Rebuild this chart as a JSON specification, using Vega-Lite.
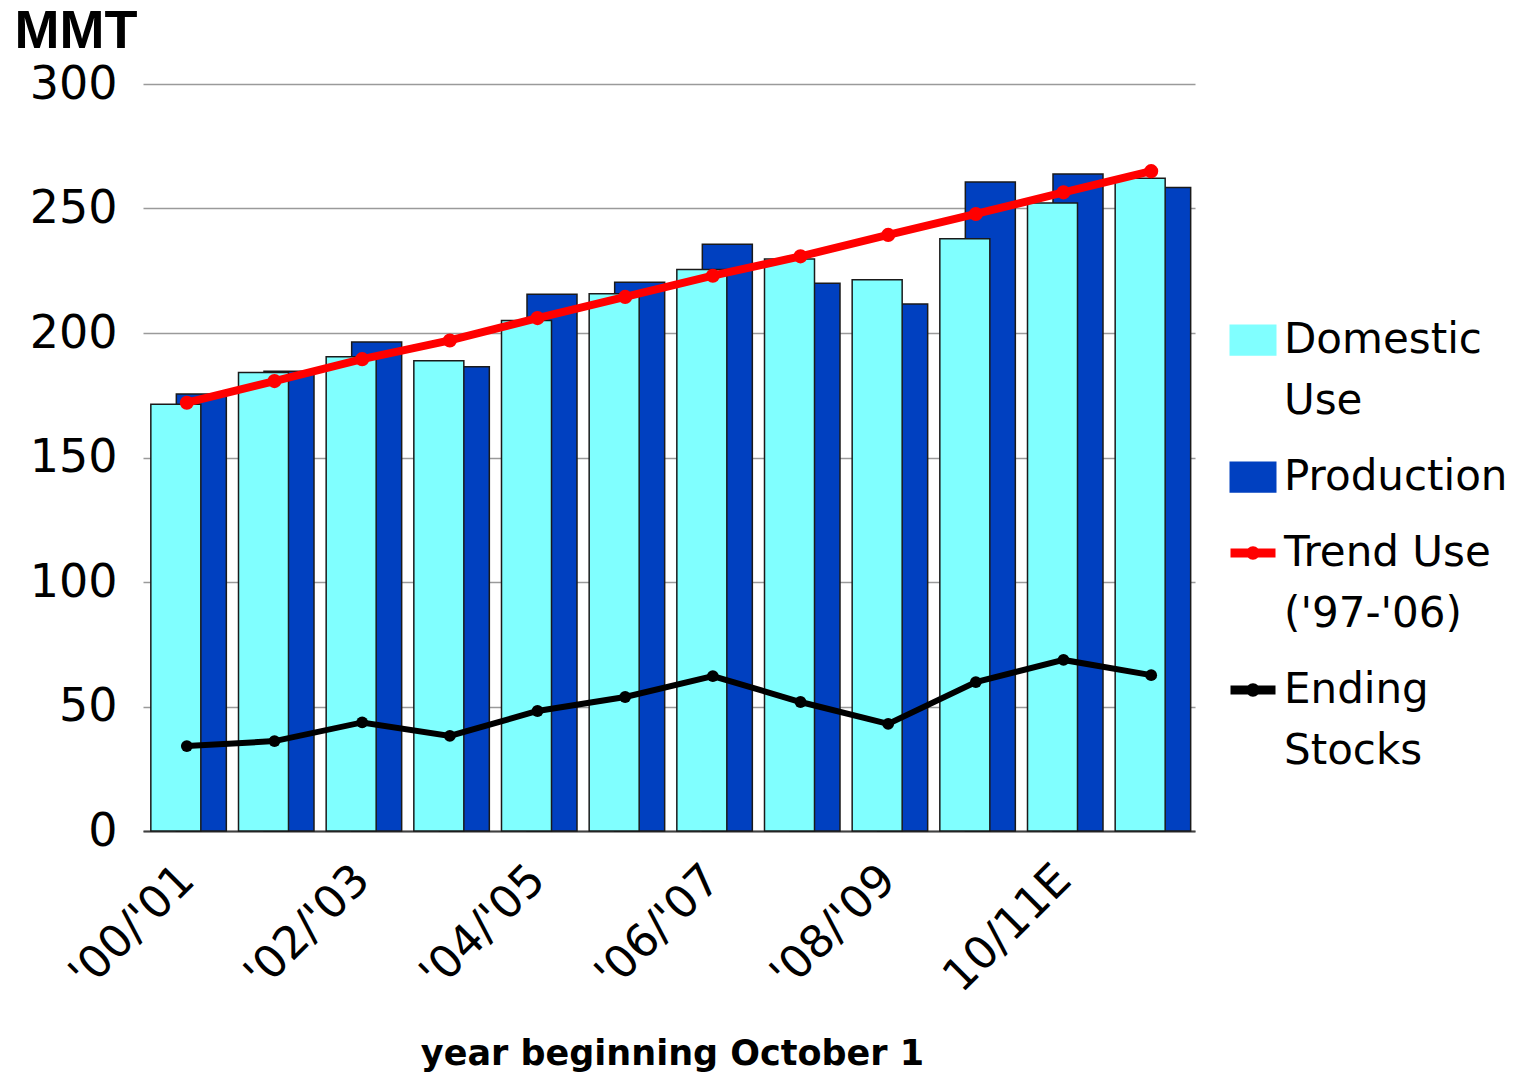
{
  "$schema": "https://vega.github.io/schema/vega-lite/v6.json",
  "width": 1052,
  "height": 747,
  "autosize": {"type": "none"},
  "padding": {"left": 143, "top": 84, "right": 328, "bottom": 246},
  "background": "white",
  "config": {"view": {"stroke": null}, "font": "DejaVu Sans"},
  "data": {
    "values": [
      {"year": "'00/'01", "series": "Domestic Use", "value": 171.4},
      {"year": "'01/'02", "series": "Domestic Use", "value": 184.1},
      {"year": "'02/'03", "series": "Domestic Use", "value": 190.5},
      {"year": "'03/'04", "series": "Domestic Use", "value": 188.9},
      {"year": "'04/'05", "series": "Domestic Use", "value": 205},
      {"year": "'05/'06", "series": "Domestic Use", "value": 215.8},
      {"year": "'06/'07", "series": "Domestic Use", "value": 225.5},
      {"year": "'07/'08", "series": "Domestic Use", "value": 229.7},
      {"year": "'08/'09", "series": "Domestic Use", "value": 221.4},
      {"year": "'09/'10", "series": "Domestic Use", "value": 237.9},
      {"year": "10/11E", "series": "Domestic Use", "value": 252.2},
      {"year": "11/12P", "series": "Domestic Use", "value": 262.1},
      {"year": "'00/'01", "series": "Production", "value": 175.5},
      {"year": "'01/'02", "series": "Production", "value": 184.6},
      {"year": "'02/'03", "series": "Production", "value": 196.4},
      {"year": "'03/'04", "series": "Production", "value": 186.4},
      {"year": "'04/'05", "series": "Production", "value": 215.6},
      {"year": "'05/'06", "series": "Production", "value": 220.4},
      {"year": "'06/'07", "series": "Production", "value": 235.6},
      {"year": "'07/'08", "series": "Production", "value": 220},
      {"year": "'08/'09", "series": "Production", "value": 211.6},
      {"year": "'09/'10", "series": "Production", "value": 260.6},
      {"year": "10/11E", "series": "Production", "value": 263.9},
      {"year": "11/12P", "series": "Production", "value": 258.4},
      {"year": "'00/'01", "series": "Trend Use ('97-'06)", "value": 172},
      {"year": "'01/'02", "series": "Trend Use ('97-'06)", "value": 180.7},
      {"year": "'02/'03", "series": "Trend Use ('97-'06)", "value": 189.5},
      {"year": "'03/'04", "series": "Trend Use ('97-'06)", "value": 197},
      {"year": "'04/'05", "series": "Trend Use ('97-'06)", "value": 206},
      {"year": "'05/'06", "series": "Trend Use ('97-'06)", "value": 214.5},
      {"year": "'06/'07", "series": "Trend Use ('97-'06)", "value": 223},
      {"year": "'07/'08", "series": "Trend Use ('97-'06)", "value": 230.8},
      {"year": "'08/'09", "series": "Trend Use ('97-'06)", "value": 239.4},
      {"year": "'09/'10", "series": "Trend Use ('97-'06)", "value": 247.8},
      {"year": "10/11E", "series": "Trend Use ('97-'06)", "value": 256.5},
      {"year": "11/12P", "series": "Trend Use ('97-'06)", "value": 265},
      {"year": "'00/'01", "series": "Ending Stocks", "value": 34.1},
      {"year": "'01/'02", "series": "Ending Stocks", "value": 36.1},
      {"year": "'02/'03", "series": "Ending Stocks", "value": 43.6},
      {"year": "'03/'04", "series": "Ending Stocks", "value": 38.2},
      {"year": "'04/'05", "series": "Ending Stocks", "value": 48.2},
      {"year": "'05/'06", "series": "Ending Stocks", "value": 53.8},
      {"year": "'06/'07", "series": "Ending Stocks", "value": 62.2},
      {"year": "'07/'08", "series": "Ending Stocks", "value": 51.8},
      {"year": "'08/'09", "series": "Ending Stocks", "value": 43},
      {"year": "'09/'10", "series": "Ending Stocks", "value": 59.8},
      {"year": "10/11E", "series": "Ending Stocks", "value": 68.7},
      {"year": "11/12P", "series": "Ending Stocks", "value": 62.6}
    ]
  },
  "encoding": {
    "x": {
      "field": "year",
      "type": "nominal",
      "sort": null,
      "scale": {"paddingInner": 0, "paddingOuter": 0},
      "axis": {
        "values": ["'00/'01", "'02/'03", "'04/'05", "'06/'07", "'08/'09", "10/11E"],
        "labelAngle": -45,
        "labelAlign": "right",
        "labelBaseline": "middle",
        "labelFont": "DejaVu Sans",
        "labelFontSize": 45,
        "labelColor": "#000000",
        "labelPadding": 41,
        "ticks": false,
        "grid": false,
        "domainColor": "#404040",
        "domainWidth": 2,
        "title": "year beginning October 1",
        "titleFont": "DejaVu Sans",
        "titleFontWeight": "bold",
        "titleFontSize": 35,
        "titleColor": "#000000",
        "titleX": 529,
        "titleY": 233,
        "titleAlign": "center",
        "titleBaseline": "alphabetic"
      }
    },
    "y": {
      "field": "value",
      "type": "quantitative",
      "scale": {"domain": [0, 300], "nice": false},
      "axis": {
        "values": [0, 50, 100, 150, 200, 250, 300],
        "labelFont": "DejaVu Sans",
        "labelFontSize": 46,
        "labelColor": "#000000",
        "labelPadding": 26,
        "ticks": false,
        "domain": false,
        "grid": true,
        "gridColor": "#9a9a9a",
        "gridWidth": 1.5,
        "title": "MMT",
        "titleFont": "Liberation Sans",
        "titleFontWeight": "bold",
        "titleFontSize": 54,
        "titleColor": "#000000",
        "titleAngle": 0,
        "titleAlign": "left",
        "titleBaseline": "alphabetic",
        "titleX": -129,
        "titleY": -37
      }
    },
    "color": {
      "field": "series",
      "type": "nominal",
      "scale": {
        "domain": ["Domestic Use", "Production", "Trend Use ('97-'06)", "Ending Stocks"],
        "range": ["#80FFFF", "#0040C0", "#FF0000", "#000000"]
      },
      "legend": {
        "title": null,
        "orient": "none",
        "legendX": 1089,
        "legendY": 235,
        "padding": 0,
        "symbolSize": 2025,
        "symbolStrokeColor": "#1a1a1a",
        "symbolStrokeWidth": 2,
        "labelFont": "DejaVu Sans",
        "labelFontSize": 42,
        "labelColor": "#000000",
        "labelOffset": 10,
        "labelLimit": 500,
        "rowPadding": 34,
        "labelExpr": "datum.label == 'Domestic Use' ? ['Domestic', 'Use'] : datum.label == 'Ending Stocks' ? ['Ending', 'Stocks'] : datum.label == 'Production' ? 'Production' : ['Trend  Use', \"('97-'06)\"]",
        "encode": {
          "symbols": {
            "update": {
              "shape": {"signal": "datum.value == 'Domestic Use' || datum.value == 'Production' ? 'M-1,-0.65H1V0.65H-1Z' : 'M-1,-0.2H1V0.2H-1Z M0.3,0A0.3,0.3,0,1,1,-0.3,0A0.3,0.3,0,1,1,0.3,0Z'"},
              "fill": {"scale": "color", "field": "value"},
              "fillOpacity": {"value": 1},
              "opacity": {"value": 1},
              "stroke": {"signal": "datum.value == 'Domestic Use' || datum.value == 'Production' ? '#1a1a1a' : null"},
              "strokeOpacity": {"value": 1},
              "strokeWidth": {"signal": "datum.value == 'Domestic Use' || datum.value == 'Production' ? 2 : 0"}
            }
          },
          "labels": {
            "update": {
              "lineHeight": {"value": 61}
            }
          }
        }
      }
    }
  },
  "layer": [
    {
      "transform": [{"filter": {"field": "series", "equal": "Production"}}],
      "mark": {"type": "bar", "width": 50, "xOffset": 14.5, "stroke": "#1a1a1a", "strokeWidth": 1.5}
    },
    {
      "transform": [{"filter": {"field": "series", "equal": "Domestic Use"}}],
      "mark": {"type": "bar", "width": 50, "xOffset": -11, "stroke": "#1a1a1a", "strokeWidth": 1.5}
    },
    {
      "transform": [{"filter": {"field": "series", "equal": "Ending Stocks"}}],
      "mark": {"type": "line", "strokeWidth": 6, "point": {"filled": true, "size": 140, "opacity": 1}}
    },
    {
      "transform": [{"filter": {"field": "series", "equal": "Trend Use ('97-'06)"}}],
      "mark": {"type": "line", "strokeWidth": 8, "point": {"filled": true, "size": 200, "opacity": 1}}
    }
  ]
}
